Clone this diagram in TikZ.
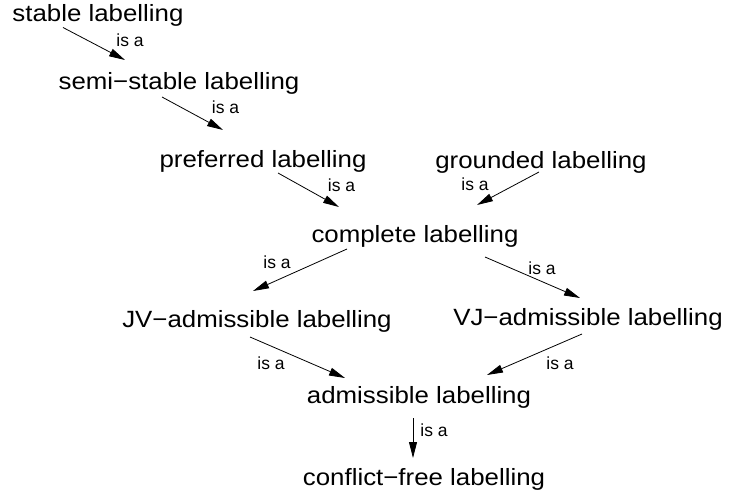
\documentclass[tikz,border=0pt]{standalone}
\usepackage{fontspec}
\setmainfont{Liberation Sans}
\usetikzlibrary{calc,arrows.meta}

\begin{document}
\begin{tikzpicture}[x=1pt, y=-1pt]
    \tikzset{lab/.style={font=\fontsize{23.5}{23.5}\selectfont, inner sep=0pt, xscale=1.1},
             isatag/.style={font=\fontsize{17.5}{17.5}\selectfont, inner sep=0pt},
             isa/.style={-{Triangle[length=16pt, width=8pt]}, line width=0.8pt}}

    \useasboundingbox (0,0) rectangle (729,500);

    \draw (98,15.5) node (stable) [lab] {stable labelling};
    \draw (179,83) node (semi) [lab] {semi\textminus stable labelling};
    \draw (263,161) node (pref) [lab] {preferred labelling};
    \draw (541,162) node (ground) [lab] {grounded labelling};
    \draw (415,236) node (compl) [lab] {complete labelling};
    \draw (257,321) node (jv) [lab] {JV\textminus admissible labelling};
    \draw (588,319) node (vj) [lab] {VJ\textminus admissible labelling};
    \draw (419,397) node (adm) [lab] {admissible labelling};
    \draw (424,479) node (cf) [lab] {conflict\textminus free labelling};

    \draw[isa] ($(stable)+(-35,12)$) -- node[isatag, xshift=36pt, yshift=3.5pt] {is a} ($(semi)+(-54,-23)$);
    \draw[isa] ($(semi)+(-17,14)$) -- node[isatag, xshift=33pt, yshift=6pt] {is a} ($(pref)+(-40,-31)$);
    \draw[isa] ($(pref)+(15,12)$) -- node[isatag, xshift=33pt, yshift=5pt] {is a} ($(compl)+(-76,-29)$);
    \draw[isa] ($(ground)+(-2,10)$) -- node[isatag, xshift=-33pt, yshift=4.5pt] {is a} ($(compl)+(62,-31)$);
    \draw[isa] ($(compl)+(-68,13)$) -- node[isatag, xshift=-23pt, yshift=8pt] {is a} ($(jv)+(-4,-30)$);
    \draw[isa] ($(compl)+(70,21)$) -- node[isatag, xshift=9.5pt, yshift=9.5pt] {is a} ($(vj)+(-8,-21)$);
    \draw[isa] ($(jv)+(-7,16)$) -- node[isatag, xshift=-26.5pt, yshift=-5.5pt] {is a} ($(adm)+(-74,-19)$);
    \draw[isa] ($(vj)+(-6,15)$) -- node[isatag, xshift=25.5pt, yshift=-8.5pt] {is a} ($(adm)+(68,-22)$);
    \draw[isa] ($(adm)+(-6,21)$) -- node[isatag, xshift=21pt, yshift=8pt] {is a} ($(cf)+(-11,-21)$);
\end{tikzpicture}
\end{document}
